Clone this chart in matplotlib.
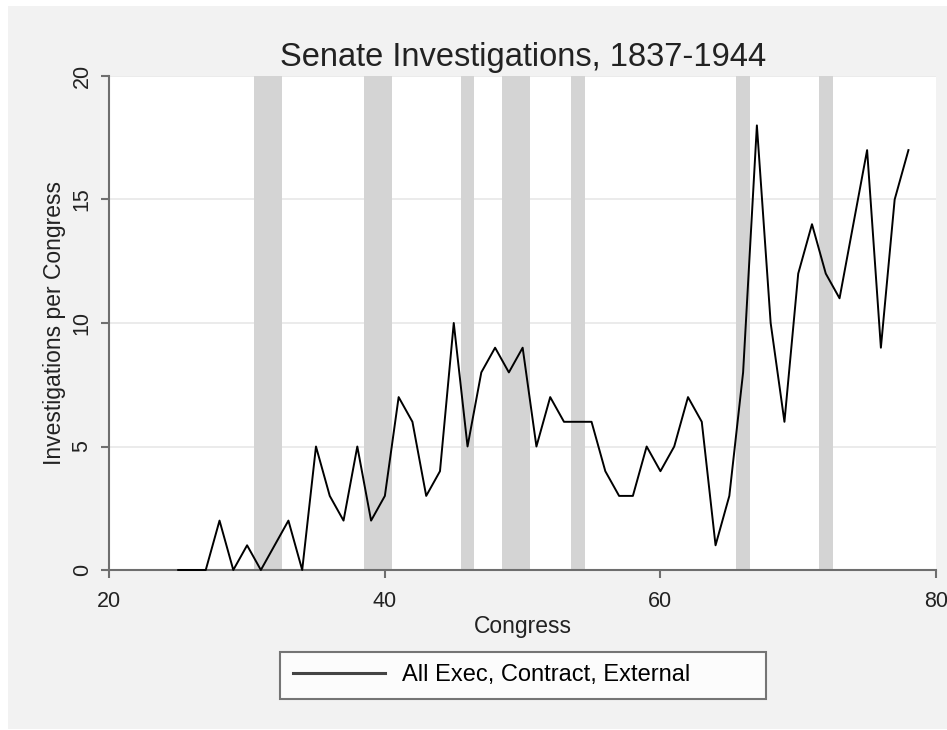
import matplotlib
matplotlib.use('Agg')
import matplotlib.pyplot as plt
from matplotlib.patches import Rectangle

plt.rcParams['font.family'] = ['Liberation Sans', 'DejaVu Sans']

# data
congress = list(range(25, 79))
investigations = [0, 0, 0, 2, 0, 1, 0, 1, 2, 0,
                  5, 3, 2, 5, 2, 3, 7, 6, 3, 4,
                  10, 5, 8, 9, 8, 9, 5, 7, 6, 6,
                  6, 4, 3, 3, 5, 4, 5, 7, 6, 1,
                  3, 8, 18, 10, 6, 12, 14, 12, 11, 14,
                  17, 9, 15, 17]
band_start = [30.5, 38.5, 45.5, 48.5, 53.5, 65.5, 71.5]
band_end = [32.5, 40.5, 46.5, 50.5, 54.5, 66.5, 72.5]
xticks = [20, 40, 60, 80]
yticks = [0, 5, 10, 15, 20]

W, H = 947, 730
fig = plt.figure(figsize=(W / 100, H / 100), dpi=100, facecolor='white')
# gray graph region (Stata style)
fig.patches.append(Rectangle((8 / W, 1 / H), 1, (729 - 6) / H,
                             transform=fig.transFigure, facecolor='#f2f2f2',
                             edgecolor='none', zorder=-10))

ax = fig.add_axes([109.3 / W, 1 - 570 / H, (936 - 109.3) / W, (570 - 76) / H])
ax.set_facecolor('white')

for s, e in zip(band_start, band_end):
    ax.axvspan(s, e, color='#d4d4d4', lw=0, zorder=1)

line, = ax.plot(congress, investigations, color='black', lw=1.4, zorder=5,
                clip_on=False, label='All Exec, Contract, External')

ax.set_xlim(20, 80)
ax.set_ylim(0, 20)
ax.set_xticks(xticks)
ax.set_yticks(yticks)
ax.yaxis.grid(True, color='#ebebeb', lw=1.4, zorder=0)
ax.set_axisbelow(True)

for sp in ['top', 'right']:
    ax.spines[sp].set_visible(False)
for sp in ['left', 'bottom']:
    ax.spines[sp].set_color('#6e6e6e')
    ax.spines[sp].set_linewidth(1.5)
    ax.spines[sp].set_zorder(4)

ax.tick_params(axis='both', direction='out', length=6, width=1.5,
               color='#6e6e6e', labelsize=15.5, labelcolor='#222222')
ax.tick_params(axis='x', pad=9)
ax.tick_params(axis='y', pad=6)
for lab in ax.get_yticklabels():
    lab.set_rotation(90)
    lab.set_va('center')

ax.set_title('Senate Investigations, 1837-1944', fontsize=23.5, pad=7, color='#222222')
ax.set_xlabel('Congress', fontsize=16.5, labelpad=2, color='#222222')
ax.set_ylabel('Investigations per Congress', fontsize=16.5, labelpad=4, color='#222222')

leg = fig.legend(handles=[line], loc='center', mode='expand',
                 bbox_to_anchor=(280 / W, 1 - 699 / H, 486 / W, 47 / H),
                 fontsize=17, frameon=True, fancybox=False, handlelength=3.9,
                 borderpad=0.55, handletextpad=0.7, borderaxespad=0)
leg.get_frame().set_edgecolor('#555555')
leg.get_frame().set_linewidth(1.5)
leg.get_frame().set_facecolor('white')
leg.get_lines()[0].set_color('#444444')
leg.get_lines()[0].set_linewidth(2.2)

fig.savefig('out.png', dpi=100, facecolor=fig.get_facecolor())
